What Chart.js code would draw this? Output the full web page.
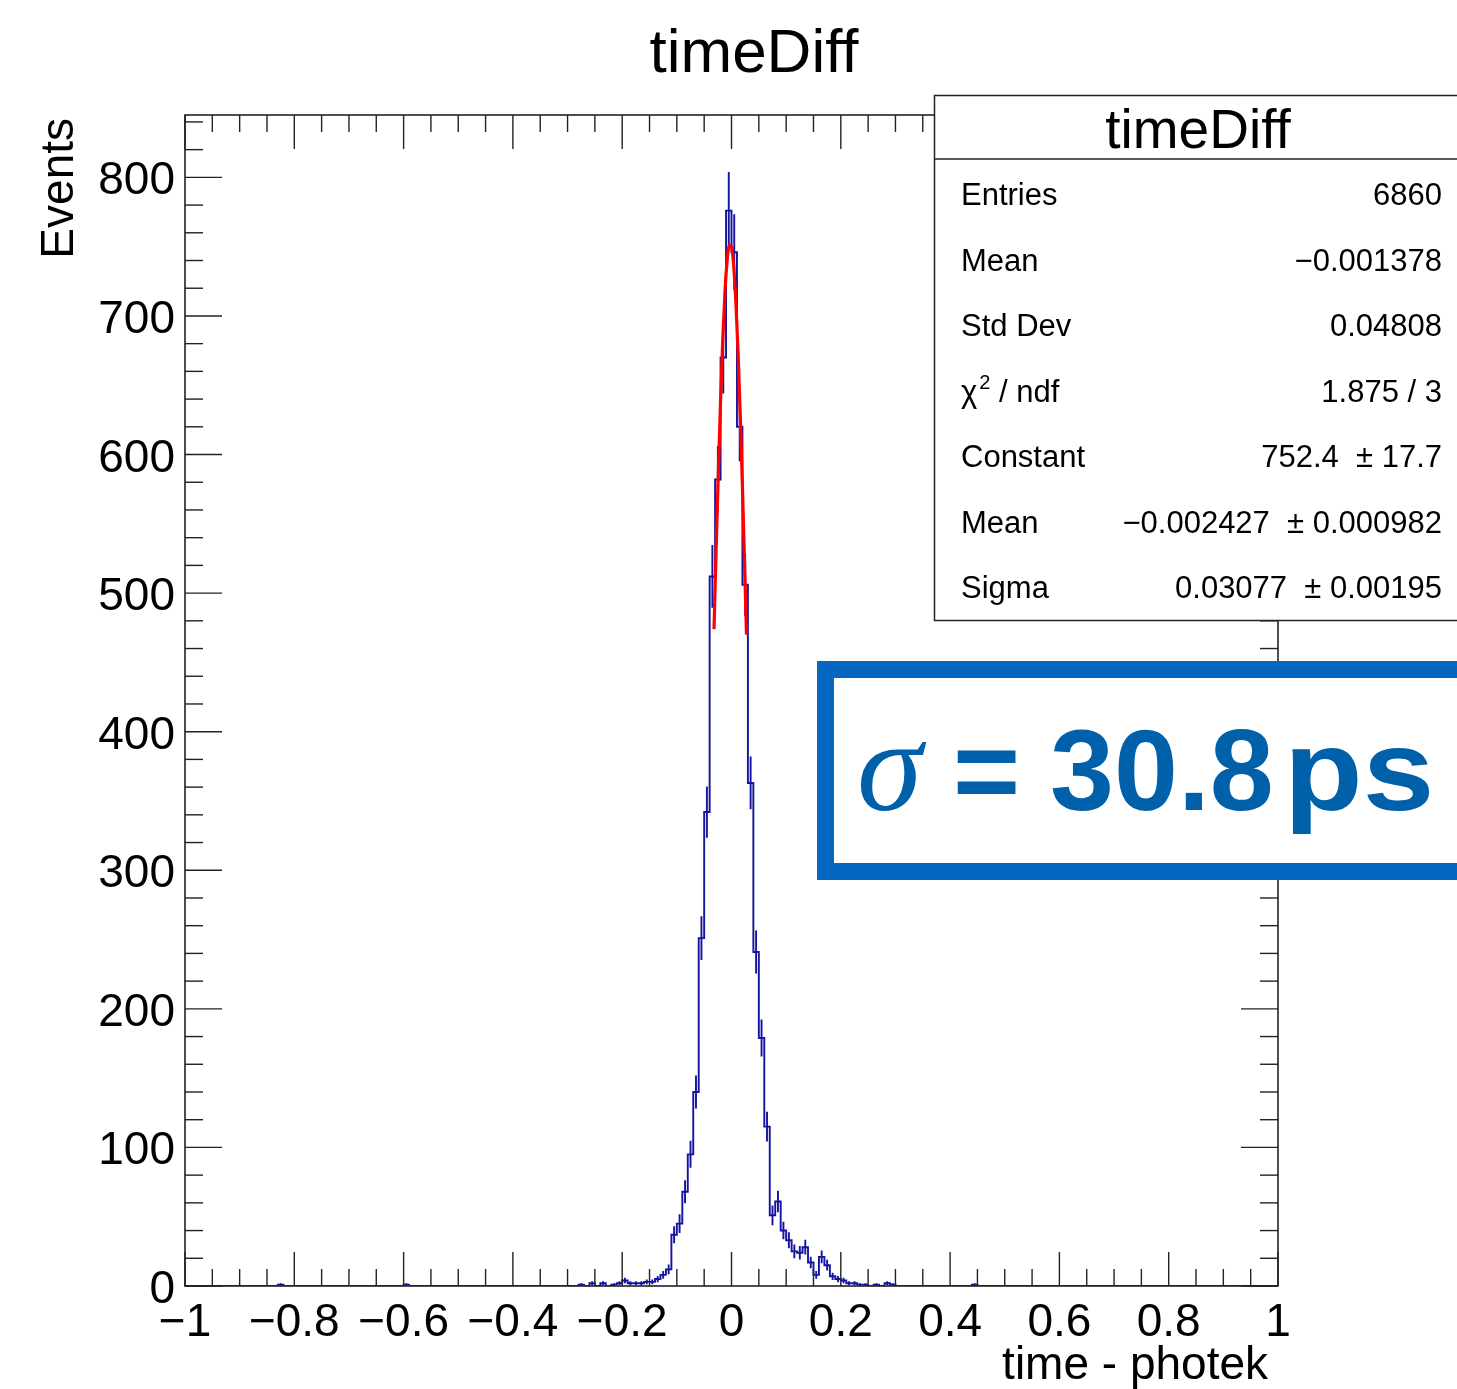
<!DOCTYPE html>
<html>
<head>
<meta charset="utf-8">
<title>timeDiff</title>
<script src="https://cdn.jsdelivr.net/npm/chart.js@4.4.1/dist/chart.umd.min.js"></script>
<style>
  html, body { margin: 0; padding: 0; background: #fff; }
  canvas { display: block; }
</style>
</head>
<body>
<canvas id="miCanvas" width="1457" height="1389"></canvas>
<script>
// rango del histograma (200 bins de 0.01)
const xMin = -1;
const xMax = 1;
const binWidth = 0.01;
const yMin = 0;
const yMax = 845;

// cuentas por bin
const conteos = [
  0, 0, 0, 0, 0, 0, 0, 0, 0, 0,
  0, 0, 0, 0, 0, 0, 0, 1, 0, 0,
  0, 0, 0, 0, 0, 0, 0, 0, 0, 0,
  0, 0, 0, 0, 0, 0, 0, 0, 0, 0,
  1, 0, 0, 0, 0, 0, 0, 0, 0, 0,
  0, 0, 0, 0, 0, 0, 0, 0, 0, 0,
  0, 0, 0, 0, 0, 0, 0, 0, 0, 0,
  0, 0, 1, 0, 2, 0, 2, 0, 1, 2,
  4, 2, 2, 2, 3, 3, 5, 8, 12, 37,
  45, 68, 95, 140, 251, 342, 512, 582, 670, 776,
  746, 620, 506, 363, 241, 179, 115, 51, 61, 40,
  33, 25, 24, 28, 17, 8, 21, 15, 7, 5,
  4, 2, 2, 1, 1, 0, 1, 0, 2, 1,
  0, 0, 0, 0, 0, 0, 0, 0, 0, 0,
  0, 0, 0, 0, 1, 0, 0, 0, 0, 0,
  0, 0, 0, 0, 0, 0, 0, 0, 0, 0,
  0, 0, 0, 0, 0, 0, 0, 0, 0, 0,
  0, 0, 0, 0, 0, 0, 0, 0, 0, 0,
  0, 0, 0, 0, 0, 0, 0, 0, 0, 0,
  0, 0, 0, 0, 0, 0, 0, 0, 0, 0
];

const ajusteX = [-0.032, -0.028, -0.024, -0.020, -0.016, -0.012, -0.008, -0.004,
                 0.000, 0.004, 0.008, 0.012, 0.016, 0.020, 0.024, 0.0274];
const ajusteY = [474, 533, 588, 639, 683, 717, 740, 751,
                 750, 736, 710, 674, 629, 577, 520, 470];

// ejes
const xTicks = [-1, -0.8, -0.6, -0.4, -0.2, 0, 0.2, 0.4, 0.6, 0.8, 1];
const xTickLabels = ["\u22121", "\u22120.8", "\u22120.6", "\u22120.4", "\u22120.2", "0", "0.2", "0.4", "0.6", "0.8", "1"];
const xMinorStep = 0.05;
const yTicks = [0, 100, 200, 300, 400, 500, 600, 700, 800];
const yTickLabels = ["0", "100", "200", "300", "400", "500", "600", "700", "800"];
const yMinorStep = 20;

// caja de estadisticas
const statsTitulo = "timeDiff";
const statsNombres = ["Entries", "Mean", "Std Dev", "chi2", "Constant", "Mean", "Sigma"];
const statsValores = ["6860", "\u22120.001378", "0.04808", "1.875 / 3", "752.4  \u00b1 17.7",
                      "\u22120.002427  \u00b1 0.000982", "0.03077  \u00b1 0.00195"];

const titulo = "timeDiff";
const tituloX = "time - photek";
const tituloY = "Events";
const sigmaTexto = "30.8";
const sigmaUnidad = "ps";

const fuente = '"Liberation Sans", Arial, Helvetica, sans-serif';
const azulHist = "#1414a0";

// puntos del histograma en escalera
const escalera = conteos.map((c, i) => ({ x: xMin + i * binWidth, y: c }));
escalera.push({ x: xMax, y: conteos[conteos.length - 1] });

// barras de error sqrt(N) en el centro de cada bin
const barrasError = [];
conteos.forEach((c, i) => {
  if (c <= 0) return;
  const centro = xMin + (i + 0.5) * binWidth;
  const e = Math.sqrt(c);
  barrasError.push({ x: centro, y: c - e }, { x: centro, y: c + e }, { x: centro, y: null });
});

const curvaAjuste = ajusteX.map((x, i) => ({ x: x, y: ajusteY[i] }));

function linea(ctx, x1, y1, x2, y2) {
  ctx.beginPath();
  ctx.moveTo(x1, y1);
  ctx.lineTo(x2, y2);
  ctx.stroke();
}

const marcoPlugin = {
  id: "marco",
  afterDraw(chart) {
    const ctx = chart.ctx;
    const sx = chart.scales.x;
    const sy = chart.scales.y;
    const a = chart.chartArea;
    ctx.save();

    // marco y marcas
    ctx.strokeStyle = "#222";
    ctx.lineWidth = 1.6;
    ctx.strokeRect(a.left, a.top, a.right - a.left, a.bottom - a.top);
    ctx.lineWidth = 1.4;
    const nX = Math.round((xMax - xMin) / xMinorStep);
    for (let k = 0; k <= nX; k++) {
      const v = xMin + k * xMinorStep;
      const px = sx.getPixelForValue(v);
      const mayor = xTicks.some(t => Math.abs(t - v) < 1e-6);
      const largo = mayor ? 34 : 17;
      linea(ctx, px, a.bottom, px, a.bottom - largo);
      linea(ctx, px, a.top, px, a.top + largo);
    }
    for (let v = yMin; v <= yMax; v += yMinorStep) {
      const py = sy.getPixelForValue(v);
      const mayor = yTicks.includes(v);
      const largo = mayor ? 37 : 18;
      linea(ctx, a.left, py, a.left + largo, py);
      linea(ctx, a.right, py, a.right - largo, py);
    }

    // etiquetas de los ejes
    ctx.fillStyle = "#000";
    ctx.font = "46px " + fuente;
    ctx.textAlign = "center";
    ctx.textBaseline = "alphabetic";
    xTicks.forEach((t, i) => {
      ctx.fillText(xTickLabels[i], sx.getPixelForValue(t), 1336);
    });
    ctx.textAlign = "right";
    yTicks.forEach((t, i) => {
      ctx.fillText(yTickLabels[i], 175, sy.getPixelForValue(t) + 17);
    });

    // titulos
    ctx.textAlign = "right";
    ctx.fillText(tituloX, 1268, 1379);
    ctx.save();
    ctx.translate(73, 118);
    ctx.rotate(-Math.PI / 2);
    ctx.textAlign = "right";
    ctx.fillText(tituloY, 0, 0);
    ctx.restore();
    ctx.font = "62px " + fuente;
    ctx.textAlign = "center";
    ctx.fillText(titulo, 754, 72);

    // caja de estadisticas
    ctx.fillStyle = "#fff";
    ctx.fillRect(934, 95, 540, 526);
    ctx.strokeStyle = "#222";
    ctx.lineWidth = 1.5;
    ctx.strokeRect(934.5, 95.5, 540, 525);
    linea(ctx, 934.5, 159, 1460, 159);
    ctx.fillStyle = "#000";
    ctx.font = "55px " + fuente;
    ctx.textAlign = "center";
    ctx.fillText(statsTitulo, 1198, 148);
    ctx.font = "31px " + fuente;
    statsNombres.forEach((n, i) => {
      const base = 205 + i * 65.5;
      ctx.textAlign = "left";
      if (n === "chi2") {
        ctx.fillText("\u03c7", 961, base);
        let w = ctx.measureText("\u03c7").width;
        ctx.font = "20px " + fuente;
        ctx.fillText("2", 961 + w + 2, base - 13);
        w += ctx.measureText("2").width + 2;
        ctx.font = "31px " + fuente;
        ctx.fillText(" / ndf", 961 + w, base);
      } else {
        ctx.fillText(n, 961, base);
      }
      ctx.textAlign = "right";
      ctx.fillText(statsValores[i], 1442, base);
    });

    // recuadro azul con la resolucion
    ctx.fillStyle = "#fff";
    ctx.fillRect(826, 670, 700, 202);
    ctx.strokeStyle = "#0567c1";
    ctx.lineWidth = 17;
    ctx.strokeRect(825.5, 669.5, 700, 202);
    ctx.fillStyle = "#0060a9";
    ctx.textAlign = "left";
    ctx.font = 'italic 132px "Liberation Serif", "Times New Roman", serif';
    ctx.fillText("\u03c3", 857, 810);
    ctx.font = "bold 115px " + fuente;
    ctx.fillText("=", 953, 810);
    ctx.fillText(sigmaTexto, 1050, 810);
    ctx.save();
    ctx.translate(1284, 810);
    ctx.scale(1.12, 1);
    ctx.fillText(sigmaUnidad, 0, 0);
    ctx.restore();

    ctx.restore();
  }
};

const ctx = document.getElementById("miCanvas");
const myChart = new Chart(ctx, {
  type: "scatter",
  data: {
    datasets: [
      {
        label: "ajuste",
        data: curvaAjuste,
        showLine: true,
        borderColor: "#ff0000",
        borderWidth: 3.2,
        pointRadius: 0,
        cubicInterpolationMode: "monotone",
      },
      {
        label: "errores",
        data: barrasError,
        showLine: true,
        spanGaps: false,
        borderColor: azulHist,
        borderWidth: 1.9,
        pointRadius: 0,
      },
      {
        label: "timeDiff",
        data: escalera,
        showLine: true,
        stepped: "before",
        borderColor: azulHist,
        borderWidth: 1.9,
        pointRadius: 0,
      },
    ],
  },
  options: {
    responsive: false,
    animation: false,
    devicePixelRatio: 1,
    layout: {
      padding: { left: 185, right: 179, top: 115, bottom: 103 },
    },
    scales: {
      x: { type: "linear", min: xMin, max: xMax, display: false },
      y: { type: "linear", min: yMin, max: yMax, display: false },
    },
    plugins: {
      legend: { display: false },
      tooltip: { enabled: false },
    },
  },
  plugins: [marcoPlugin],
});
</script>
</body>
</html>
